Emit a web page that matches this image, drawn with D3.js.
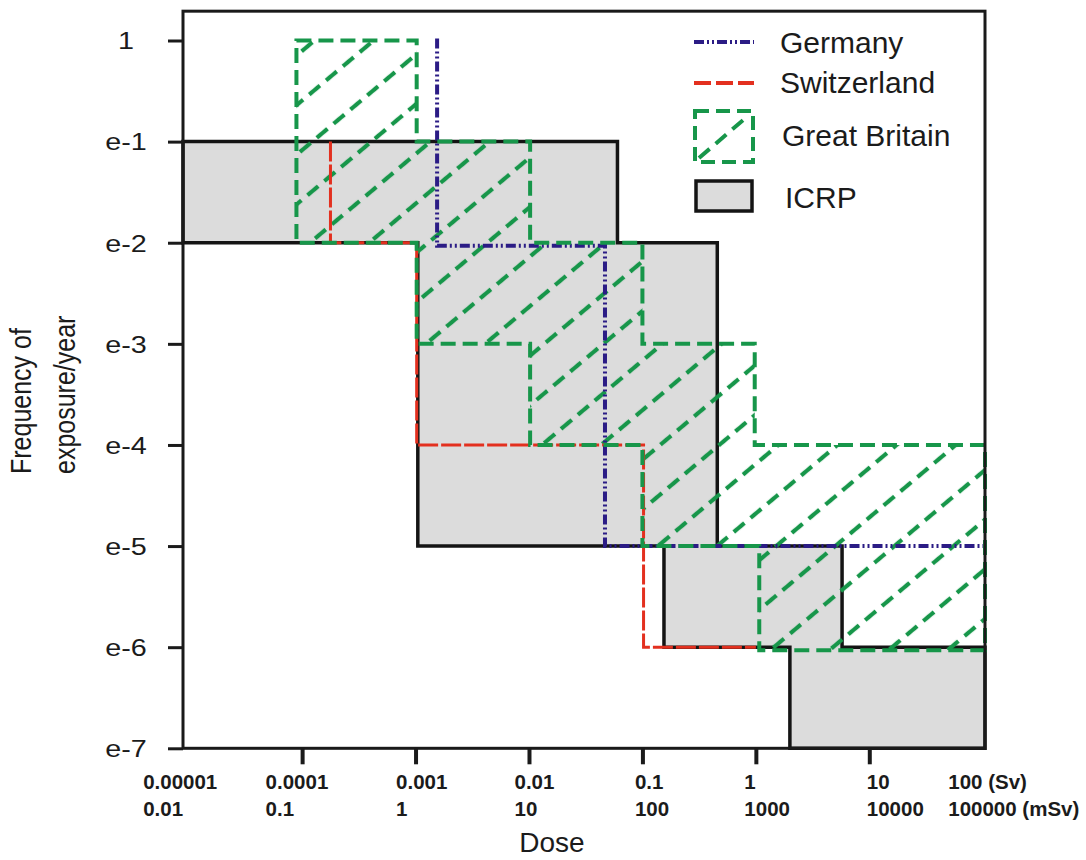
<!DOCTYPE html>
<html>
<head>
<meta charset="utf-8">
<script src="https://cdn.jsdelivr.net/npm/d3@7"></script>
<style>
  body { margin: 0; background: #fff; }
  svg { font-family: "Liberation Sans", Arial, sans-serif; }
</style>
</head>
<body>
<div id="chart"></div>
<script>
// axis ticks (log10 of dose in Sv, log10 of frequency per year)
var yTicks = [0, -1, -2, -3, -4, -5, -6, -7];
var yTickLabels = ["1", "e-1", "e-2", "e-3", "e-4", "e-5", "e-6", "e-7"];
var xTicks = [-5, -4, -3, -2, -1, 0, 1, 2];
var svLabels = ["0.00001", "0.0001", "0.001", "0.01", "0.1", "1", "10", "100 (Sv)"];
var msvLabels = ["0.01", "0.1", "1", "10", "100", "1000", "10000", "100000 (mSv)"];

// outlines, [log10 dose, log10 frequency]
var icrp = [[-5.05, -1], [-1.22, -1], [-1.22, -2], [-0.34, -2], [-0.34, -5], [0.76, -5],
  [0.76, -6], [2.02, -6], [2.02, -7], [0.30, -7], [0.30, -6], [-0.81, -6], [-0.81, -5],
  [-2.98, -5], [-2.98, -2], [-5.05, -2]];
var germany = [[-2.81, 0.02], [-2.81, -2.03], [-1.33, -2.03], [-1.33, -5], [2.02, -5]];
var switzerland = [[-3.75, -1], [-3.75, -2], [-2.99, -2], [-2.99, -4], [-0.99, -4],
  [-0.99, -6], [0, -6]];
var greatBritain = [[-4.05, 0], [-2.99, 0], [-2.99, -1], [-1.99, -1], [-1.99, -2], [-1, -2],
  [-1, -3], [-0.01, -3], [-0.01, -4], [2.02, -4], [2.02, -6.03], [0.03, -6.03], [0.03, -5],
  [-1, -5], [-1, -4], [-1.99, -4], [-1.99, -3], [-2.99, -3], [-2.99, -2], [-4.05, -2]];
var legendNames = ["Germany", "Switzerland", "Great Britain", "ICRP"];

var colors = {germany: "#2b1c85", swiss: "#e3301f", gb: "#17964a", icrp: "#141414", fill: "#dcdcdc"};

// label shifts (left edge relative to tick), they are not centred in the original
var tickLabelDx = [-46, -37, -20, -15, -8, -12, -3, -35];

var width = 1086, height = 860;
var svg = d3.select("#chart").append("svg")
    .attr("width", width)
    .attr("height", height);

var x = d3.scaleLinear().domain([-5.05, 2.02]).range([183, 985]);
var y = d3.scaleLinear().domain([-7, 0]).range([748.3, 40.5]);
var yTop = y(0.29);

var line = d3.line()
    .x(function(d) { return x(d[0]); })
    .y(function(d) { return y(d[1]); });

// hatch for the Great Britain area
var defs = svg.append("defs");
var hatch = defs.append("pattern")
    .attr("id", "gbHatch")
    .attr("patternUnits", "userSpaceOnUse")
    .attr("width", 22)
    .attr("height", 38)
    .attr("patternTransform", "translate(297,80) rotate(-40)");
hatch.append("line")
    .attr("x1", 0).attr("y1", 19).attr("x2", 22).attr("y2", 19)
    .attr("stroke", colors.gb)
    .attr("stroke-width", 4.2)
    .attr("stroke-dasharray", "14,8");

// ICRP
svg.append("path")
    .attr("d", line(icrp) + "Z")
    .attr("fill", colors.fill)
    .attr("stroke", colors.icrp)
    .attr("stroke-width", 3.5)
    .attr("stroke-linejoin", "miter");

// Great Britain hatch
svg.append("path")
    .attr("d", line(greatBritain) + "Z")
    .attr("fill", "url(#gbHatch)")
    .attr("stroke", "none");

// Switzerland
svg.append("path")
    .attr("d", line(switzerland))
    .attr("fill", "none")
    .attr("stroke", colors.swiss)
    .attr("stroke-width", 3)
    .attr("stroke-dasharray", "20,3");

// Germany
svg.append("path")
    .attr("d", line(germany))
    .attr("fill", "none")
    .attr("stroke", colors.germany)
    .attr("stroke-width", 4)
    .attr("stroke-dasharray", "10,3,2,3,2,3");

// Great Britain outline
svg.append("path")
    .attr("d", line(greatBritain) + "Z")
    .attr("fill", "none")
    .attr("stroke", colors.gb)
    .attr("stroke-width", 4)
    .attr("stroke-dasharray", "15,7");

// frame
svg.append("rect")
    .attr("x", x(-5.05))
    .attr("y", yTop)
    .attr("width", x(2.02) - x(-5.05))
    .attr("height", y(-7) - yTop)
    .attr("fill", "none")
    .attr("stroke", "#1a1a1a")
    .attr("stroke-width", 3);

// y axis
var yAxis = svg.append("g")
    .attr("transform", "translate(" + x(-5.05) + ",0)")
    .call(d3.axisLeft(y).tickValues(yTicks).tickSize(15).tickPadding(0)
      .tickFormat(function(d, i) { return yTickLabels[i]; }));
yAxis.select(".domain").remove();
yAxis.selectAll(".tick line").attr("stroke", "#1a1a1a").attr("stroke-width", 3);
yAxis.selectAll(".tick text")
    .attr("x", null)
    .attr("dy", "0.36em")
    .attr("text-anchor", "middle")
    .attr("transform", "translate(-57,0) scale(1.25,1)")
    .attr("font-size", 23)
    .attr("fill", "#1b1b1b")
    .attr("font-family", "Liberation Sans, Arial, sans-serif");

// x axis
var xAxis = svg.append("g")
    .attr("transform", "translate(0," + y(-7) + ")")
    .call(d3.axisBottom(x).tickValues(xTicks).tickSize(16).tickFormat(""));
xAxis.select(".domain").remove();
xAxis.selectAll(".tick line")
    .attr("stroke", "#1a1a1a")
    .attr("stroke-width", 4)
    .attr("opacity", function(d) { return (d === -5 || d === 2) ? 0 : 1; });
xAxis.selectAll(".tick text").remove();
var xLab = xAxis.selectAll(".tick").append("text")
    .attr("fill", "#1b1b1b")
    .attr("font-size", 20.5)
    .attr("font-weight", "bold")
    .attr("font-family", "Liberation Sans, Arial, sans-serif")
    .attr("text-anchor", "start");
xLab.append("tspan")
    .attr("x", function(d, i) { return tickLabelDx[i]; })
    .attr("y", 41)
    .text(function(d, i) { return svLabels[i]; });
xLab.append("tspan")
    .attr("x", function(d, i) { return tickLabelDx[i]; })
    .attr("y", 68)
    .text(function(d, i) { return msvLabels[i]; });

// axis titles
svg.append("text")
    .attr("x", 552).attr("y", 852)
    .attr("text-anchor", "middle")
    .attr("font-size", 28)
    .attr("fill", "#1b1b1b")
    .text("Dose");

var yTitle = svg.append("g").attr("fill", "#1b1b1b").attr("font-size", 25);
yTitle.append("text")
    .attr("transform", "translate(31,474) scale(1.2,1) rotate(-90)")
    .text("Frequency of");
yTitle.append("text")
    .attr("transform", "translate(75,474) scale(1.2,1) rotate(-90)")
    .text("exposure/year");

// legend
var legend = svg.append("g").attr("font-size", 30).attr("fill", "#1b1b1b");
legend.append("line")
    .attr("x1", 694).attr("x2", 754).attr("y1", 42).attr("y2", 42)
    .attr("stroke", colors.germany).attr("stroke-width", 4)
    .attr("stroke-dasharray", "10,3,2,3,2,3");
legend.append("line")
    .attr("x1", 694).attr("x2", 754).attr("y1", 83).attr("y2", 83)
    .attr("stroke", colors.swiss).attr("stroke-width", 4)
    .attr("stroke-dasharray", "17,5");
legend.append("rect")
    .attr("x", 695).attr("y", 111).attr("width", 58).attr("height", 51)
    .attr("fill", "none").attr("stroke", colors.gb).attr("stroke-width", 4)
    .attr("stroke-dasharray", "14,7");
legend.append("line")
    .attr("x1", 699).attr("y1", 158).attr("x2", 749).attr("y2", 115)
    .attr("stroke", colors.gb).attr("stroke-width", 4)
    .attr("stroke-dasharray", "14,8");
legend.append("rect")
    .attr("x", 696).attr("y", 181).attr("width", 56).attr("height", 30)
    .attr("fill", colors.fill).attr("stroke", colors.icrp).attr("stroke-width", 3.5);

var legendY = [53, 93, 146, 208];
var legendX = [780, 780, 782, 785];
legend.selectAll("text.name")
    .data(legendNames)
  .enter().append("text")
    .attr("class", "name")
    .attr("x", function(d, i) { return legendX[i]; })
    .attr("y", function(d, i) { return legendY[i]; })
    .text(function(d) { return d; });
</script>
</body>
</html>
